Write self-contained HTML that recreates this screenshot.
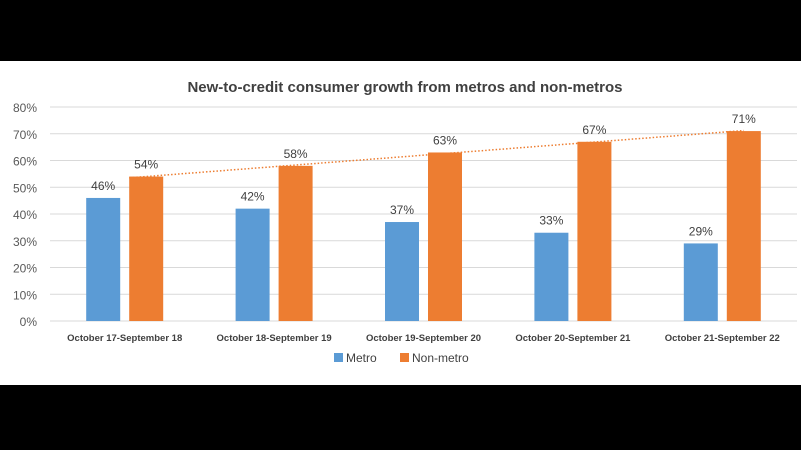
<!DOCTYPE html>
<html><head><meta charset="utf-8"><style>
body{margin:0;background:#000;width:801px;height:450px;overflow:hidden;font-family:"Liberation Sans",sans-serif}
#w{position:absolute;left:0;top:61px;width:801px;height:324px;background:#fff}
</style></head><body>
<div id="w"></div>
<svg id="c" width="801" height="450" style="position:absolute;left:0;top:0">
<text x="405" y="92" text-anchor="middle" font-size="15" font-weight="bold" fill="#404040">New-to-credit consumer growth from metros and non-metros</text>
<g id="grid"></g><g id="bars"></g>
<g>
<rect x="334" y="353" width="9" height="9" fill="#5b9bd5"/>
<text x="346" y="362" font-size="12" fill="#404040">Metro</text>
<rect x="400" y="353" width="9" height="9" fill="#ed7d31"/>
<text x="412" y="362" font-size="12" fill="#404040">Non-metro</text>
</g>
</svg>
<script>
const categories=["October 17-September 18","October 18-September 19","October 19-September 20","October 20-September 21","October 21-September 22"];
const metro=[46,42,37,33,29];
const nonMetro=[54,58,63,67,71];
const ticks=[0,10,20,30,40,50,60,70,80];
const NS="http://www.w3.org/2000/svg";
const x0=50,x1=797,yb=321,yt=107,ymax=80;
const cw=(x1-x0)/categories.length;
const y=v=>yb-(v/ymax)*(yb-yt);
const cx=i=>x0+cw*(i+0.5);
function mk(t,a,p){const e=document.createElementNS(NS,t);for(const k in a)e.setAttribute(k,a[k]);p.appendChild(e);return e;}
const g=document.getElementById('grid'),b=document.getElementById('bars');
ticks.forEach(t=>{
 const l=mk('line',{x1:x0,x2:x1,y1:y(t),y2:y(t),stroke:'#d9d9d9','stroke-width':1},g);
 
 
 const tx=mk('text',{x:37,y:y(t)+5,'text-anchor':'end','font-size':12,fill:'#595959'},g);
 tx.textContent=t+'%';
 
 
});
const bw=34,gap=9;
categories.forEach((c,i)=>{
 const m=mk('rect',{x:cx(i)-gap/2-bw,y:y(metro[i]),width:bw,height:yb-y(metro[i]),fill:'#5b9bd5'},b);
 
 
 const n=mk('rect',{x:cx(i)+gap/2,y:y(nonMetro[i]),width:bw,height:yb-y(nonMetro[i]),fill:'#ed7d31'},b);
 
 
 const ml=mk('text',{x:cx(i)-gap/2-bw/2,y:y(metro[i])-8,'text-anchor':'middle','font-size':12,fill:'#404040'},b);
 ml.textContent=metro[i]+'%';
 
 
 const nl=mk('text',{x:cx(i)+gap/2+bw/2,y:y(nonMetro[i])-8,'text-anchor':'middle','font-size':12,fill:'#404040'},b);
 nl.textContent=nonMetro[i]+'%';
 
 
 const xl=mk('text',{x:cx(i),y:341,'text-anchor':'middle','font-size':9.5,'font-weight':'bold',fill:'#404040'},b);
 xl.textContent=c;
 
 
});
// linear trendline for non-metro
const n=nonMetro.length;let sx=0,sy=0,sxy=0,sxx=0;
nonMetro.forEach((v,i)=>{sx+=i;sy+=v;sxy+=i*v;sxx+=i*i;});
const sl=(n*sxy-sx*sy)/(n*sxx-sx*sx),ic=(sy-sl*sx)/n;
const ox=i=>cx(i)+gap/2+bw/2;
const tl=mk('line',{x1:ox(0)-17,y1:y(ic-sl*0.11),x2:ox(n-1),y2:y(ic+sl*(n-1)),stroke:'#ed7d31','stroke-width':1.5,'stroke-dasharray':'1.5,2'},b);


</script>
</body></html>
